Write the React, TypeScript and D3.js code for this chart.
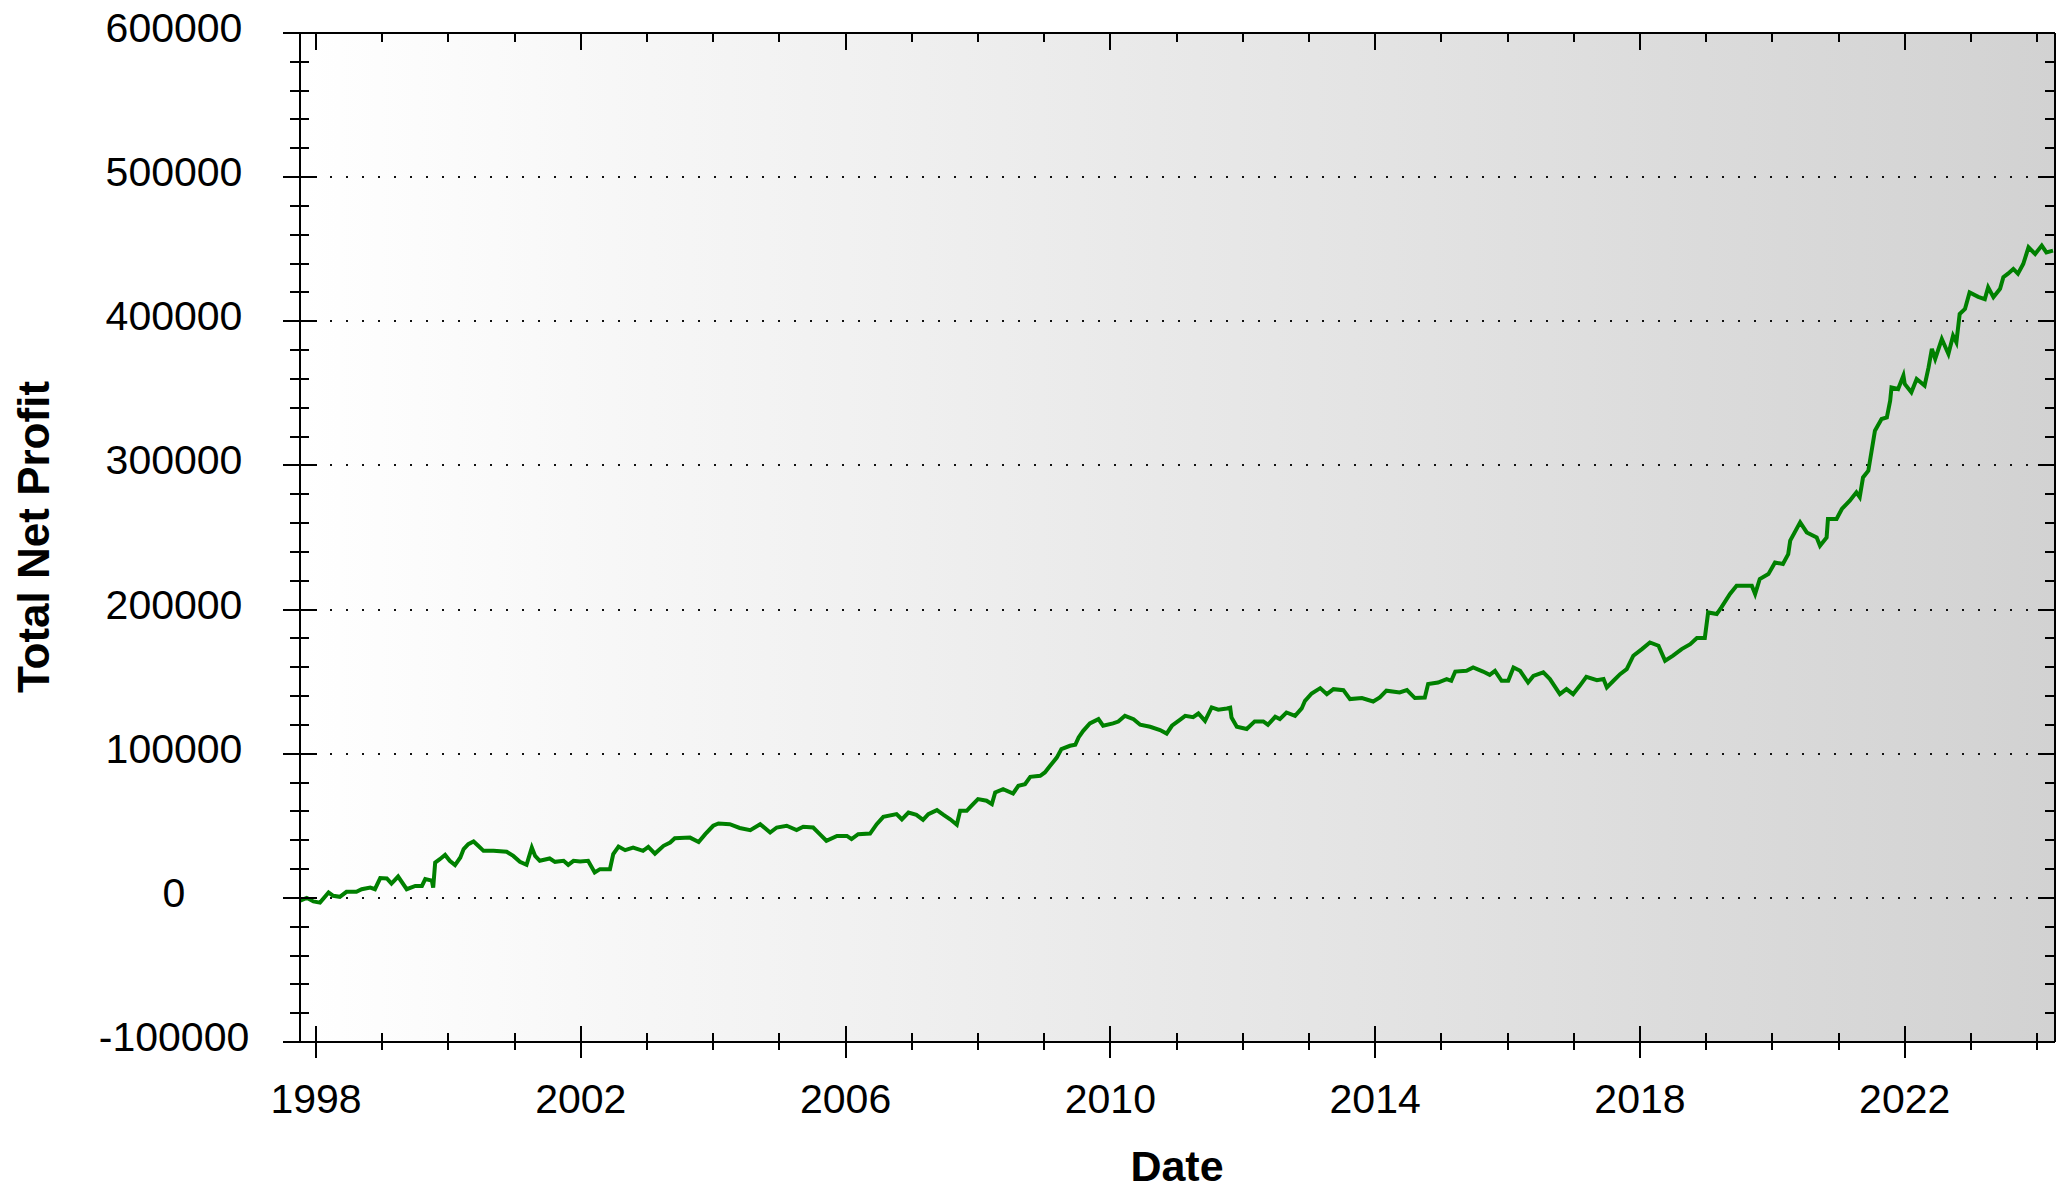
import React from "react";
import * as d3 from "d3";

// Decimal-year positions of the sampled equity-curve points
const years = [
  1997.76, 1997.86, 1997.96, 1998.06, 1998.19, 1998.26, 1998.36, 1998.46, 1998.61, 1998.69,
  1998.82, 1998.89, 1998.97, 1999.07, 1999.14, 1999.24, 1999.37, 1999.5, 1999.6, 1999.65,
  1999.75, 1999.77, 1999.8, 1999.87, 1999.95, 2000.02, 2000.1, 2000.18, 2000.23, 2000.3,
  2000.38, 2000.45, 2000.53, 2000.68, 2000.88, 2000.98, 2001.08, 2001.18, 2001.26, 2001.31,
  2001.38, 2001.53, 2001.61, 2001.74, 2001.81, 2001.89, 2001.99, 2002.11, 2002.21, 2002.29,
  2002.44, 2002.49, 2002.57, 2002.67, 2002.79, 2002.94, 2003.02, 2003.12, 2003.25, 2003.35,
  2003.42, 2003.65, 2003.78, 2003.88, 2004.0, 2004.08, 2004.25, 2004.4,
  2004.56, 2004.71, 2004.86, 2004.96, 2005.11, 2005.26, 2005.36, 2005.51, 2005.61, 2005.71,
  2005.87, 2006.02, 2006.09, 2006.19, 2006.37, 2006.47, 2006.57, 2006.77, 2006.85, 2006.95,
  2007.07, 2007.17, 2007.25, 2007.38, 2007.48, 2007.58, 2007.68, 2007.73, 2007.83, 2007.9,
  2008.0, 2008.13, 2008.21, 2008.26, 2008.38, 2008.53, 2008.61, 2008.71, 2008.79, 2008.94,
  2009.01, 2009.09, 2009.19, 2009.26, 2009.39, 2009.47, 2009.52, 2009.59, 2009.69, 2009.82,
  2009.89, 2010.04, 2010.12, 2010.22, 2010.35, 2010.45, 2010.6, 2010.75, 2010.85, 2010.93,
  2011.05, 2011.13, 2011.25, 2011.33, 2011.43, 2011.53, 2011.63, 2011.76, 2011.81, 2011.83,
  2011.91, 2012.06, 2012.18, 2012.31, 2012.38, 2012.49, 2012.56, 2012.66, 2012.79, 2012.89,
  2012.94, 2013.04, 2013.17, 2013.27, 2013.37, 2013.52, 2013.62, 2013.8, 2013.97, 2014.07,
  2014.17, 2014.37, 2014.48, 2014.6, 2014.75, 2014.8, 2014.95, 2015.08, 2015.15, 2015.21,
  2015.38, 2015.48, 2015.63, 2015.73, 2015.81, 2015.91, 2016.01, 2016.09, 2016.19, 2016.31,
  2016.39, 2016.54, 2016.64, 2016.79, 2016.89, 2016.99, 2017.09, 2017.19, 2017.35, 2017.45,
  2017.5, 2017.6, 2017.7,
  2017.8, 2017.9, 2018.03, 2018.15, 2018.28, 2018.38, 2018.5, 2018.63, 2018.76, 2018.86,
  2018.98, 2019.03, 2019.16, 2019.23, 2019.36, 2019.46, 2019.59, 2019.69, 2019.74, 2019.81,
  2019.94, 2020.04, 2020.16, 2020.24, 2020.27, 2020.42, 2020.52, 2020.67, 2020.72, 2020.82,
  2020.84, 2020.97, 2021.05, 2021.17, 2021.27, 2021.32, 2021.37, 2021.45, 2021.5, 2021.55,
  2021.65, 2021.73, 2021.78, 2021.8, 2021.9, 2021.98, 2022.0, 2022.1, 2022.18, 2022.3,
  2022.36, 2022.41, 2022.46, 2022.56, 2022.66, 2022.73, 2022.78, 2022.83, 2022.91, 2022.98,
  2023.11, 2023.21, 2023.26, 2023.34, 2023.44, 2023.49, 2023.56, 2023.64, 2023.71, 2023.79,
  2023.87, 2023.97, 2024.07, 2024.14, 2024.24,
];

// Total net profit at each sampled point
const profit = [
  -2000, 0, -2500, -3300, 3700, 1400, 700, 4200, 4200, 6000,
  7100, 6000, 13700, 13500, 9900, 14800, 6000, 8300, 8300, 13000,
  12000, 7100, 24500, 26800, 29800, 25700, 22700, 28000, 33800, 37300,
  39100, 36100, 32600, 32600, 32000, 29100, 25000, 22900, 34900, 29100,
  25700, 27300, 25000, 25700, 22900, 25700, 25300, 25700, 17600, 19900,
  19900, 30300, 35600, 33100, 34900, 32600, 35400, 30700, 36100, 38400,
  41400, 41800, 38700, 44200, 50000, 51600, 51100, 48500,
  47000, 51100, 45300, 48800, 50000, 47000, 49300, 48800, 44200, 39600,
  43000, 43000, 40800, 44200, 44600, 51100, 56200, 58100, 54500, 59200,
  57600, 54100, 58100, 60900, 57600, 54500, 50700, 60400, 60400, 63800,
  68500, 67400, 65000, 73100, 75400, 72400, 77700, 78900, 84000, 84700,
  87000, 91600, 97300, 103200, 105500, 106200, 111300, 115900, 121000, 124000,
  119400, 121000, 122300, 126300, 124000, 120100, 118700, 116400, 114000, 119400,
  123500, 126300, 125300, 127900, 122800, 132100, 130500, 131400, 131900, 125100,
  118700, 117100, 122400, 122400, 120100, 125600, 124000, 128600, 126300, 131400,
  136700, 141800, 145500, 141300, 144800, 144100, 137900, 138600, 136200, 139000,
  143700, 142500, 144100, 138600, 139000, 148300, 149400, 151800, 150600, 157000,
  157500, 159800, 157000, 154700, 157500, 150600, 150600, 159800, 157500, 149400,
  154000, 156400, 151800, 141300, 144800, 141300, 147100, 153300, 151000, 151800,
  146000, 150600, 155200,
  158700, 168000, 172600, 177200, 174900, 164500, 168000, 172600, 176000, 180200,
  180200, 198000, 196900, 201500, 210800, 216500, 216500, 216500, 210800, 221200,
  224600, 232700, 231600, 238500, 247800, 260500, 253500, 250000, 244300, 250000,
  262800, 262800, 269800, 275500, 281300, 278000, 291700, 296300, 310200, 324100,
  332200, 333300, 344900, 354100, 353000, 362300, 356500, 350700, 360000, 355400,
  368000, 380800, 373900, 387700, 377300, 390000, 385400, 405100, 408500, 420000,
  417000, 415400, 423600, 416700, 422500, 430600, 433000, 436300, 433000, 439700,
  451300, 446700, 452500, 447800, 449000,
];

const yTickValues = [-100000, 0, 100000, 200000, 300000, 400000, 500000, 600000];
const yGridValues = [0, 100000, 200000, 300000, 400000, 500000];
const xMajorYears = [1998, 2002, 2006, 2010, 2014, 2018, 2022];
const xMinorYears = d3.range(1998, 2025);
const yMinorValues = d3.range(-100000, 600001, 20000);

const X0 = 300, X1 = 2055, Y0 = 33, Y1 = 1042;
const FONT = "'Liberation Sans', Arial, Helvetica, sans-serif";

export default function App() {
  const x = d3.scaleLinear().domain([1997.758, 2024.27]).range([X0, X1]);
  const y = d3.scaleLinear().domain([-100000, 600000]).range([Y1, Y0]);
  const pts = years.map((yr, i) => [yr, profit[i]] as [number, number]);
  const linePath = d3
    .line<[number, number]>()
    .x((d) => x(d[0]))
    .y((d) => y(d[1]))(pts);

  return (
    <svg
      width={2072}
      height={1192}
      style={{ position: "absolute", left: 0, top: 0, background: "#fff" }}
    >
      <defs>
        <linearGradient id="bg" x1="0" x2="1" y1="0" y2="0">
          <stop offset="0%" stopColor="#ffffff" />
          <stop offset="100%" stopColor="#d2d2d2" />
        </linearGradient>
        <clipPath id="clip">
          <rect x={X0} y={Y0} width={X1 - X0} height={Y1 - Y0} />
        </clipPath>
      </defs>
      <rect x={X0} y={Y0} width={X1 - X0} height={Y1 - Y0} fill="url(#bg)" />

      {yGridValues.map((v) => (
        <line
          key={"g" + v}
          x1={330}
          x2={2036}
          y1={Math.round(y(v))}
          y2={Math.round(y(v))}
          stroke="#111"
          strokeWidth={2}
          strokeDasharray="2 14"
          shapeRendering="crispEdges"
        />
      ))}

      <path
        d={linePath || ""}
        fill="none"
        stroke="#008000"
        strokeWidth={4}
        strokeLinejoin="miter"
        clipPath="url(#clip)"
      />

      {/* frame */}
      <g stroke="#000" strokeWidth={2} shapeRendering="crispEdges">
        <line x1={X0} x2={X0} y1={Y0} y2={Y1} />
        <line x1={X1} x2={X1} y1={Y0} y2={Y1} />
        <line x1={X0} x2={X1} y1={Y0} y2={Y0} />
        <line x1={X0} x2={X1} y1={Y1} y2={Y1} />
        {yMinorValues.map((v) => {
          const major = v % 100000 === 0;
          const yy = Math.round(y(v));
          return (
            <g key={"yt" + v}>
              <line x1={major ? 283 : 290} x2={major ? 317 : 309} y1={yy} y2={yy} />
              <line x1={major ? 2038 : 2045} x2={X1} y1={yy} y2={yy} />
            </g>
          );
        })}
        {xMinorYears.map((yr) => {
          const major = xMajorYears.includes(yr);
          const xx = Math.round(x(yr));
          return (
            <g key={"xt" + yr}>
              <line x1={xx} x2={xx} y1={major ? 1026 : 1033} y2={major ? 1058 : 1050} />
              <line x1={xx} x2={xx} y1={Y0} y2={major ? 50 : 42} />
            </g>
          );
        })}
      </g>

      <g fontFamily={FONT} fontSize={41} fill="#000">
        {yTickValues.map((v) => (
          <text key={"yl" + v} x={174} y={y(v) + 9} textAnchor="middle">
            {String(v)}
          </text>
        ))}
        {xMajorYears.map((yr) => (
          <text key={"xl" + yr} x={x(yr)} y={1113} textAnchor="middle">
            {String(yr)}
          </text>
        ))}
      </g>

      <text
        x={1177}
        y={1181}
        textAnchor="middle"
        fontFamily={FONT}
        fontSize={43}
        fontWeight="bold"
      >
        Date
      </text>
      <text
        transform="translate(49,537) rotate(-90)"
        textAnchor="middle"
        fontFamily={FONT}
        fontSize={44}
        fontWeight="bold"
      >
        Total Net Profit
      </text>
    </svg>
  );
}
